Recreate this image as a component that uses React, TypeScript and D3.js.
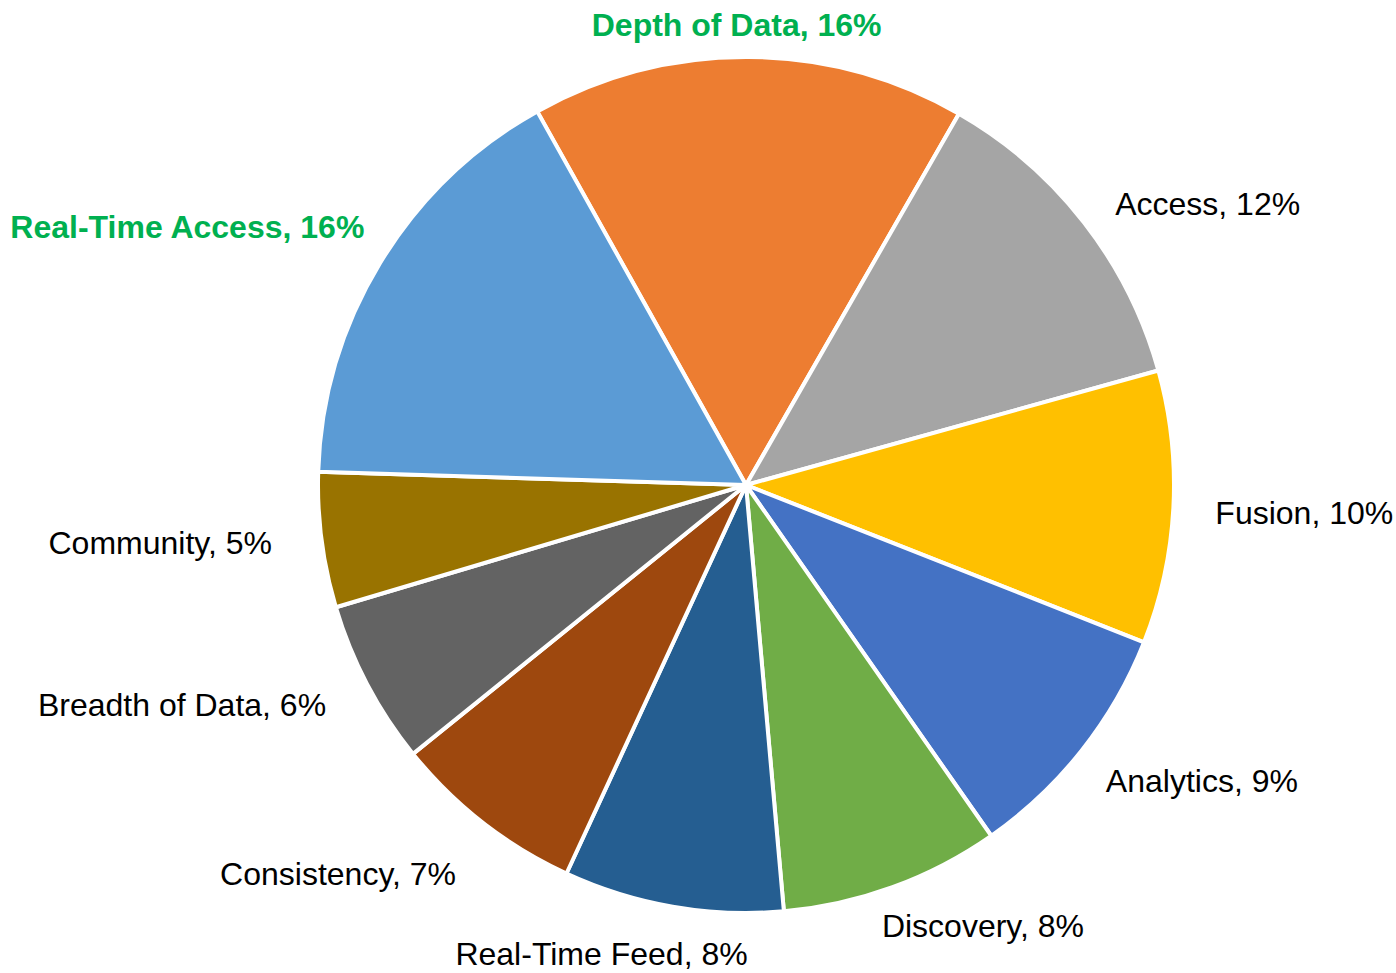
import React, { useMemo } from "react";
import * as d3 from "d3";

// slice data, clockwise from the top (Excel order)
const categories = [
  "Depth of Data",
  "Access",
  "Fusion",
  "Analytics",
  "Discovery",
  "Real-Time Feed",
  "Consistency",
  "Breadth of Data",
  "Community",
  "Real-Time Access",
];
const shares = [16.4, 12.4, 10.3, 9.3, 8.3, 8.3, 7.3, 6.2, 5.1, 16.4];
const sliceColors = [
  "#ED7D31",
  "#A5A5A5",
  "#FFC000",
  "#4472C4",
  "#70AD47",
  "#255E91",
  "#9E480E",
  "#636363",
  "#997300",
  "#5B9BD5",
];
const highlighted = ["Depth of Data", "Real-Time Access"];

// label nudges (Excel moved some labels around) [dx, dy]
const labelNudge: [number, number][] = [
  [-12, 21],
  [-2, 18],
  [0, 14],
  [-9, 16],
  [-25, 10],
  [-64, 17],
  [-1, 29],
  [-4, 12],
  [-8, 8],
  [20, -3],
];

const width = 1396;
const height = 973;
const cx = 746;
const cy = 485;
const radius = 428;
const labelRadius = 470;
const startDeg = -29.2;

type Slice = { name: string; value: number; color: string };

const App = () => {
  const data: Slice[] = categories.map((name, i) => ({
    name,
    value: shares[i],
    color: sliceColors[i],
  }));

  const arcs = useMemo(() => {
    const start = (startDeg * Math.PI) / 180;
    return d3
      .pie<Slice>()
      .sort(null)
      .value((d) => d.value)
      .startAngle(start)
      .endAngle(start + 2 * Math.PI)(data);
  }, []);

  const arc = d3.arc<d3.PieArcDatum<Slice>>().innerRadius(0).outerRadius(radius);
  const labelArc = d3
    .arc<d3.PieArcDatum<Slice>>()
    .innerRadius(labelRadius)
    .outerRadius(labelRadius);

  const total = d3.sum(shares);

  return (
    <svg
      width={width}
      height={height}
      style={{ position: "absolute", left: 0, top: 0, background: "#fff" }}
      fontFamily="'Liberation Sans', Arial, sans-serif"
    >
      <g transform={`translate(${cx},${cy})`}>
        {arcs.map((d) => (
          <path
            key={d.data.name}
            d={arc(d) || ""}
            fill={d.data.color}
            stroke="#fff"
            strokeWidth={4}
            strokeLinejoin="round"
          />
        ))}
        {arcs.map((d, i) => {
          const [x, y] = labelArc.centroid(d);
          const mid = (d.startAngle + d.endAngle) / 2;
          const s = Math.sin(mid);
          const anchor = Math.abs(s) < 0.2 ? "middle" : s > 0 ? "start" : "end";
          const hot = highlighted.includes(d.data.name);
          const pct = Math.round((d.data.value / total) * 100);
          return (
            <text
              key={"l" + d.data.name}
              x={x + labelNudge[i][0]}
              y={y + labelNudge[i][1]}
              textAnchor={anchor}
              fontSize={32}
              fontWeight={hot ? "bold" : "normal"}
              fill={hot ? "#00B050" : "#000"}
            >
              {`${d.data.name}, ${pct}%`}
            </text>
          );
        })}
      </g>
    </svg>
  );
};

export default App;
